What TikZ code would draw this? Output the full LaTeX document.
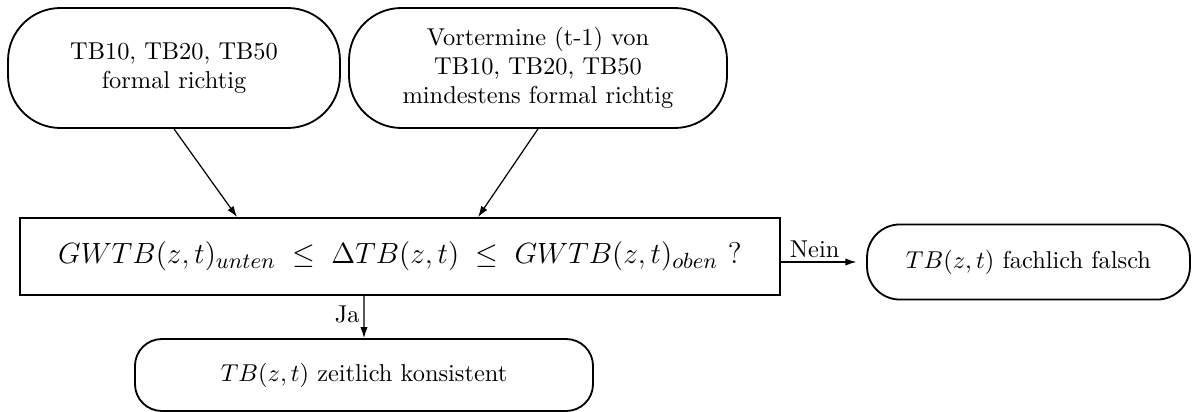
\documentclass[tikz,border=0pt]{standalone}
\usetikzlibrary{arrows.meta}
\begin{document}
\begin{tikzpicture}[x=0.41pt,y=-0.41pt,
  box/.style={draw, line width=0.75pt, align=center, inner sep=0pt},
  bigterm/.style={box, rounded corners=21.5pt, minimum height=49.2pt},
  smallterm/.style={box, rounded corners=12pt},
  test/.style={box, minimum width=311.6pt, minimum height=31.6pt, font=\fontsize{12.3}{15}\selectfont},
  arr/.style={line width=0.5pt, -{Latex[length=4.5pt,width=3pt]}},
  lbl/.style={inner sep=1.5pt}]
\useasboundingbox (0,0) rectangle (1192,412);

% input conditions
\node[bigterm, minimum width=136.1pt] (in1) at (174,68)
  {TB10, TB20, TB50\\formal richtig};
\node[bigterm, minimum width=155pt] (in2) at (538,68)
  {Vortermine (t-1) von\\TB10, TB20, TB50\\mindestens formal richtig};

% range test
\node[test] (chk) at (400,256.5)
  {$GWTB(z,t)_{unten}\;\le\;\Delta TB(z,t)\;\le\;GWTB(z,t)_{oben}$\ ?};

% outcomes
\node[smallterm, rounded corners=13.5pt, minimum width=132.4pt, minimum height=30.8pt] (no) at (1028.5,262)
  {$TB(z,t)$ fachlich falsch};
\node[smallterm, rounded corners=11pt, minimum width=187.8pt, minimum height=29.5pt] (yes) at (364,375)
  {$TB(z,t)$ zeitlich konsistent};

% connectors
\draw[arr] (in1.south) -- ([xshift=-66.8pt]chk.north);
\draw[arr] (in2.south) -- ([xshift=32pt]chk.north);
\draw[arr] ([xshift=-14.8pt]chk.south) -- node[lbl, anchor=east, pos=0.45] {Ja} (yes.north);
\draw[arr, shorten >=4pt] (chk.east |- no.west) coordinate (nstart) -- (no.west);
\node[lbl, anchor=south west] (nein) at ([xshift=2pt]nstart) {Nein};
\end{tikzpicture}
\end{document}
